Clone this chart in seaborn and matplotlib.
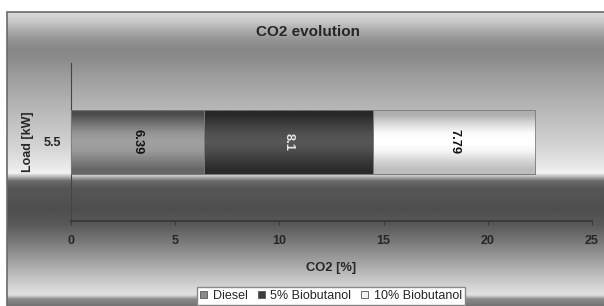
import numpy as np
import pandas as pd
import matplotlib
matplotlib.use("Agg")
import matplotlib.pyplot as plt
from matplotlib.patches import Rectangle
import seaborn as sns

# data
loads = ["5.5"]
series = ["Diesel", "5% Biobutanol", "10% Biobutanol"]
diesel = [6.39]
bio5 = [8.1]
bio10 = [7.79]
x_ticks = [0, 5, 10, 15, 20, 25]

sns.set_theme(style="white")
plt.rcParams["font.family"] = ["Liberation Sans", "DejaVu Sans"]

W, H = 604, 306
fig = plt.figure(figsize=(W / 100, H / 100), dpi=100, facecolor="white")

# chart-area background gradient (pixel row -> grey level)
bg_stops_y = [12, 20, 30, 40, 50, 60, 75, 100, 120, 150, 168, 173, 177, 181, 188, 210,
              225, 240, 260, 280, 292, 295, 299, 306]
bg_stops_v = [0.86, 0.80, 0.68, 0.58, 0.53, 0.55, 0.61, 0.69, 0.75, 0.84, 0.92, 0.95,
              0.70, 0.42, 0.34, 0.31, 0.35, 0.46, 0.62, 0.78, 0.87, 0.88, 0.55, 0.45]
rows = np.arange(12, H) + 0.5
grad = np.interp(rows, bg_stops_y, bg_stops_v)[:, None]
bg = fig.add_axes([7 / W, 0, 1 - 7 / W, 1 - 12 / H], zorder=-10)
bg.imshow(grad, cmap="gray", vmin=0, vmax=1, aspect="auto", interpolation="bilinear")
bg.axis("off")
fig.patches.append(Rectangle((7 / W, -0.1), 1.2, 1.1 - 12 / H, transform=fig.transFigure,
                             fill=False, edgecolor="#6a6a6a", linewidth=1.2))

ax = fig.add_axes([71 / W, 1 - 221 / H, 521 / W, 158 / H])
ax.patch.set_alpha(0)

df = pd.DataFrame({"Load": loads, "Diesel": diesel, "5% Biobutanol": bio5,
                   "10% Biobutanol": bio10})
bar_colors = ["#8a8a8a", "#3c3c3c", "#f4f4f4"]
left = np.zeros(len(loads))
for name, col in zip(series, bar_colors):
    sns.barplot(data=df, x=name, y="Load", orient="h", width=0.405, left=left,
                color=col, edgecolor="#7a7a7a", linewidth=0.6, saturation=1, ax=ax)
    left = left + df[name].to_numpy()

ax.set_xlim(0, 25)
ax.set_ylim(0.5, -0.5)

# cylinder-like shading inside each bar segment
shade = {
    "Diesel": [0.30, 0.45, 0.58, 0.63, 0.60, 0.50, 0.40],
    "5% Biobutanol": [0.16, 0.24, 0.31, 0.34, 0.30, 0.23, 0.17],
    "10% Biobutanol": [0.68, 0.85, 0.98, 1.00, 0.96, 0.84, 0.74],
}
for name, cont in zip(series, ax.containers):
    prof = np.array(shade[name])[:, None]
    for p in cont.patches:
        x0, y0, w, h = p.get_x(), p.get_y(), p.get_width(), p.get_height()
        ax.imshow(prof, cmap="gray", vmin=0, vmax=1, aspect="auto",
                  interpolation="bilinear", extent=[x0, x0 + w, y0 + h, y0],
                  zorder=3)
        ax.add_patch(Rectangle((x0, y0), w, h, fill=False, edgecolor="#7a7a7a",
                               linewidth=0.6, zorder=3.5))

ax.set_xlim(0, 25)
ax.set_ylim(0.5, -0.5)

txt_colors = ["#111111", "#e8e8e8", "#111111"]
for cont, tc in zip(ax.containers, txt_colors):
    for t in ax.bar_label(cont, fmt="%g", label_type="center", rotation=-90,
                          fontsize=9.3, fontweight="bold", color=tc):
        t.set_zorder(5)

ax.set_xticks(x_ticks)
ax.set_xticklabels([str(v) for v in x_ticks], fontsize=9, fontweight="bold")
ax.set_yticks(range(len(loads)))
ax.set_yticklabels(loads, fontsize=9, fontweight="bold")
ax.tick_params(axis="x", length=3, width=0.8, color="#3a3a3a", pad=7, bottom=True)
ax.tick_params(axis="y", length=0, pad=7)
for s in ["top", "right"]:
    ax.spines[s].set_visible(False)
ax.spines["left"].set_color("#444444")
ax.spines["left"].set_linewidth(0.8)
ax.spines["bottom"].set_color("#3a3a3a")
ax.spines["bottom"].set_linewidth(1.4)
ax.grid(False)

ax.set_xlabel("CO2 [%]", fontsize=9.3, fontweight="bold")
ax.xaxis.set_label_coords(0.5, -0.26)
ax.set_ylabel("Load [kW]", fontsize=9, fontweight="bold")
ax.yaxis.label.set_verticalalignment("center")
ax.yaxis.set_label_coords(-0.0825, 0.5)

fig.text(308 / W, 1 - 32 / H, "CO2 evolution", ha="center", va="center",
         fontsize=11, fontweight="bold")

handles = [Rectangle((0, 0), 1, 1, facecolor=c, edgecolor="#555555", linewidth=0.6)
           for c in bar_colors]
fig.legend(handles, series, loc="upper center", bbox_to_anchor=(331 / W, 1 - 287 / H),
           ncol=3, fontsize=9, frameon=True, fancybox=False, framealpha=1,
           facecolor="white", edgecolor="#888888", handlelength=0.55, handleheight=0.55,
           handletextpad=0.45, columnspacing=0.8, borderpad=0.25, borderaxespad=0)

fig.savefig("out.png", dpi=100)
